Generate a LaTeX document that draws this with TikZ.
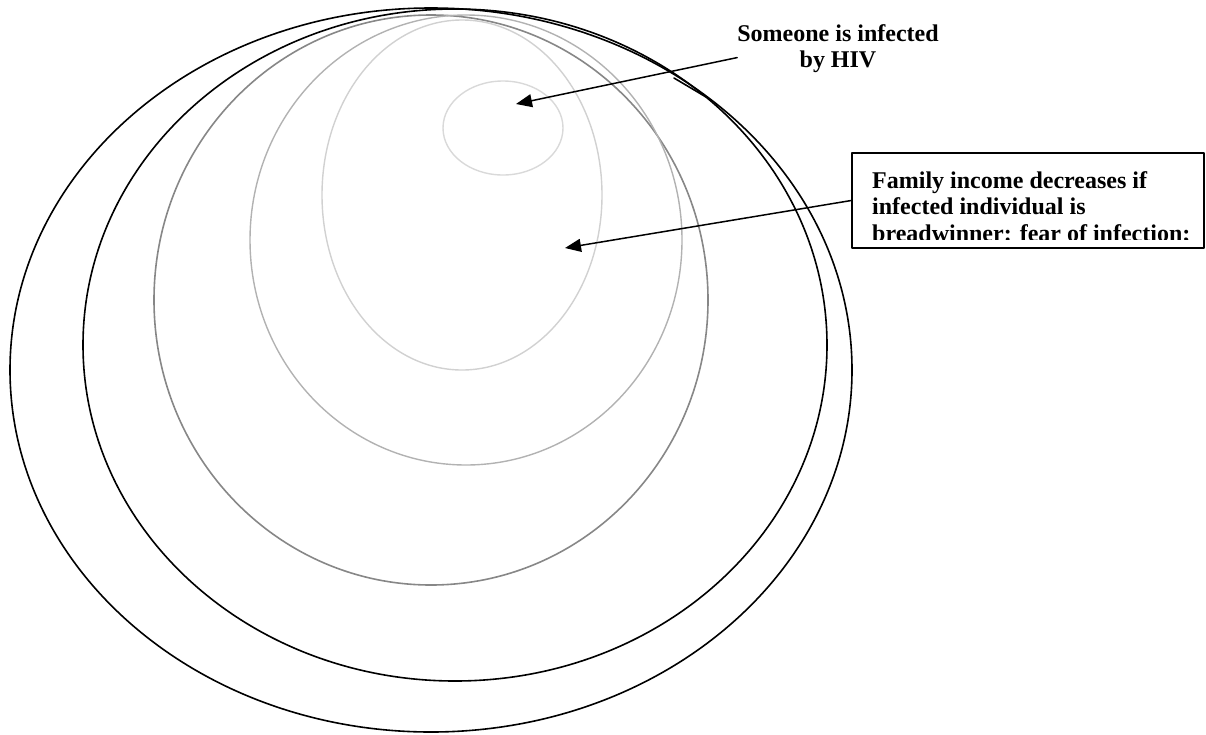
\documentclass[tikz,border=0pt]{standalone}
\usepackage{fontspec}
\setmainfont{Liberation Serif}
\usepackage{tikz}
\usetikzlibrary{arrows.meta}
\tikzset{>={Triangle[length=16pt,width=13pt]}}
\definecolor{ringdark}{gray}{0.53}
\definecolor{ringmid}{gray}{0.70}
\definecolor{ringlight}{gray}{0.82}
\definecolor{ringpale}{gray}{0.85}

\begin{document}
\begin{tikzpicture}[line cap=round,line join=round,x=1pt,y=-1pt,
    ring/.style={line width=1.6pt},
    lbl/.style={font=\bfseries\fontsize{24}{26.7}\selectfont,inner sep=0pt}]
			\useasboundingbox (0,0) rectangle (1206,734);
			% nested rings
			\draw[ring] (431,370) ellipse [x radius=421, y radius=362];
			\draw[ring] (455,345) ellipse [x radius=372, y radius=336];
			\draw[ring] (674,78) -- (706,97);
			\draw[ring,color=ringdark] (431,300) ellipse [x radius=277, y radius=285];
			\draw[ring,line width=1.4pt,color=ringmid] (466,240) ellipse [x radius=216, y radius=225];
			\draw[ring,line width=1.4pt,color=ringlight] (462,195) ellipse [x radius=140, y radius=175];
			\draw[ring,line width=1.4pt,color=ringpale] (503,128) ellipse [x radius=60, y radius=47];
			% labels
			\node[lbl,align=center,anchor=north] (hivtxt) at (838,24) {Someone is infected\\by HIV};
			\node[draw,line width=1.6pt,minimum width=352pt,minimum height=95pt,inner sep=0pt] (incomebox) at (1028,200.5) {};
			\begin{scope}
			\clip (852,153) rectangle (1204,239);
			\node[lbl,align=left,anchor=north west] (incometxt) at (872,171) {Family income decreases if\\infected individual is\\breadwinner: fear of infection;};
			\end{scope}
			% arrows
			\coordinate (infectpt) at (516,104);
			\coordinate (incomept) at (565,248);
			\draw[->,line width=1.5pt] ([yshift=-9pt]hivtxt.west) -- (infectpt);
			\draw[->,line width=1.5pt] (incomebox.west) -- (incomept);
\end{tikzpicture}
\end{document}
